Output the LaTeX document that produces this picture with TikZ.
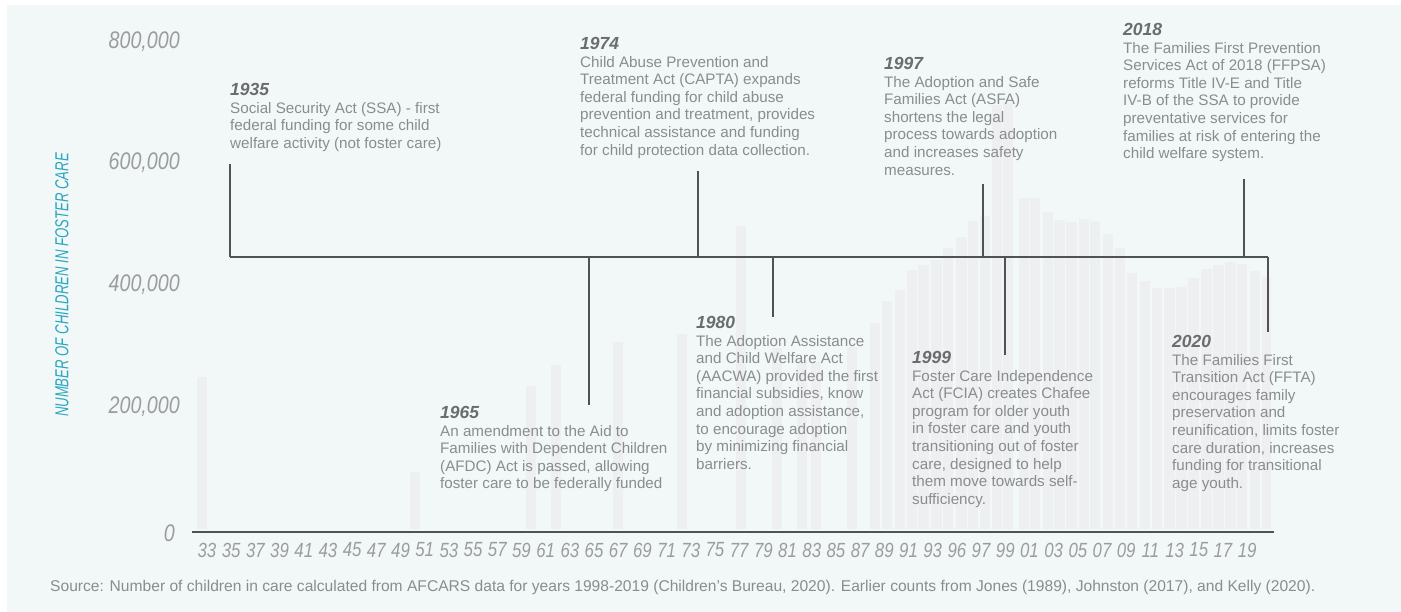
\documentclass[tikz,border=0pt]{standalone}
\usepackage{fontspec}
\setmainfont{Liberation Sans}
\newfontfamily\ynumfont[FakeStretch=0.82]{Liberation Sans}
\newfontfamily\ytitlefont[FakeStretch=0.70]{Liberation Sans}
\definecolor{bgc}{HTML}{F2F8F8}
\definecolor{barc}{HTML}{EEEFF1}
\definecolor{linec}{HTML}{505356}
\definecolor{bodyc}{HTML}{8A8C8F}
\definecolor{yearc}{HTML}{6A6C6F}
\definecolor{axisc}{HTML}{9C9C9E}
\definecolor{tealc}{HTML}{2AA6BE}
\newcommand{\yr}[1]{{\fontsize{17.5}{17.6}\selectfont\bfseries\itshape\color{yearc}#1}}
\begin{document}
\begin{tikzpicture}[x=1pt,y=-1pt,
  bar/.style={fill=barc},
  tl/.style={draw=linec,line width=2.2pt},
  stem/.style={draw=linec,line width=2.5pt},
  event/.style={anchor=north west,inner sep=0pt,align=left,text=bodyc,
    font=\fontsize{15.2}{17.6}\selectfont},
  ylab/.style={anchor=east,inner sep=0pt,text=axisc,
    font=\ynumfont\itshape\fontsize{24}{24}\selectfont},
  xlab/.style={anchor=center,inner sep=0pt,text=axisc,
    font=\ynumfont\itshape\fontsize{20.5}{20.5}\selectfont},
  src/.style={anchor=west,inner sep=0pt,text=bodyc,font=\fontsize{15.6}{16}\selectfont}]
\useasboundingbox (0,0) rectangle (1401,612);
\fill[white] (0,0) rectangle (1401,612);
\fill[bgc] (7,5) rectangle (1401,612);
% bars
\foreach \l/\r/\t in {197/207/377,410/420/472,526/536/386,551/561/365,613/623/342,
  677/687/334,736/746/226,772/782/348,797/807/360,811/821/362,847/857/347,
  870/880/323,882/892/301,895/905/290,907/917/270,918/929/265,931/942/260,
  943/953/248,956/967/237,968/978/221,980/990/216,992/1002/105,1003/1013/103,
  1019/1029/198,1030/1040/198,1043/1053/212,1054/1065/220,1066/1077/222,
  1079/1089/219,1090/1100/221,1103/1113/234,1115/1125/248,1127/1137/273,
  1140/1150/281,1152/1162/288,1164/1175/288,1176/1187/287,1188/1199/278,
  1201/1212/269,1213/1224/265,1225/1236/262,1237/1247/264,1250/1260/271,
  1262/1271/277}
  \fill[bar] (\l,529) rectangle (\r,\t);
% axes
\coordinate (ax0) at (192,532);
\coordinate (ax1) at (1274,532);
\draw[draw=linec,line width=2.7pt] (ax0) -- (ax1);
\node[ylab] (y800) at (180,42) {800,000};
\node[ylab] (y600) at (180,163) {600,000};
\node[ylab] (y400) at (180,285) {400,000};
\node[ylab] (y200) at (180,407) {200,000};
\node[ylab] (y0) at (175,533) {0};
\node[rotate=90,inner sep=0pt,text=tealc,font=\ytitlefont\itshape\fontsize{18.8}{18.8}\selectfont]
  (ytitle) at (62,285) {NUMBER OF CHILDREN IN FOSTER CARE};
\foreach \lab [count=\i from 0] in {33,35,37,39,41,43,45,47,49,51,53,55,57,59,61,63,
  65,67,69,71,73,75,77,79,81,83,85,87,89,91,93,96,97,99,01,03,05,07,09,11,13,15,17,19}
  \node[xlab] (x\i) at ({207+24.19*\i},550) {\lab};
% timeline
\coordinate (L0) at (230,257);
\coordinate (L1) at (1268,257);
\draw[tl] (L0) -- (L1);
\foreach \n/\x/\e in {1935/230/164,1974/698/171,1997/983/184,2018/1244/179,
  1965/589/405,1980/773/317,1999/1005/355,2020/1268/332}{
  \coordinate (j\n) at (\x,257);
  \coordinate (s\n) at (\x,\e);
  \draw[stem] (j\n) -- (s\n);
}
% events
\node[event] (t1935) at (230,83) {\yr{1935}\\Social Security Act (SSA) - first\\federal funding for some child\\welfare activity (not foster care)};
\node[event] (t1974) at (580,37) {\yr{1974}\\Child Abuse Prevention and\\Treatment Act (CAPTA) expands\\federal funding for child abuse\\prevention and treatment, provides\\technical assistance and funding\\for child protection data collection.};
\node[event] (t1997) at (884,57) {\yr{1997}\\The Adoption and Safe\\Families Act (ASFA)\\shortens the legal\\process towards adoption\\and increases safety\\measures.};
\node[event] (t2018) at (1123,23) {\yr{2018}\\The Families First Prevention\\Services Act of 2018 (FFPSA)\\reforms Title IV-E and Title\\IV-B of the SSA to provide\\preventative services for\\families at risk of entering the\\child welfare system.};
\node[event] (t1965) at (440,406) {\yr{1965}\\An amendment to the Aid to\\Families with Dependent Children\\(AFDC) Act is passed, allowing\\foster care to be federally funded};
\node[event] (t1980) at (696,316) {\yr{1980}\\The Adoption Assistance\\and Child Welfare Act\\(AACWA) provided the first\\financial subsidies, know\\and adoption assistance,\\to encourage adoption\\by minimizing financial\\barriers.};
\node[event] (t1999) at (912,351) {\yr{1999}\\Foster Care Independence\\Act (FCIA) creates Chafee\\program for older youth\\in foster care and youth\\transitioning out of foster\\care, designed to help\\them move towards self-\\sufficiency.};
\node[event] (t2020) at (1172,335) {\yr{2020}\\The Families First\\Transition Act (FFTA)\\encourages family\\preservation and\\reunification, limits foster\\care duration, increases\\funding for transitional\\age youth.};
\node[src] (source) at (50,587) {Source: Number of children in care calculated from AFCARS data for years 1998-2019 (Children’s Bureau, 2020). Earlier counts from Jones (1989), Johnston (2017), and Kelly (2020).};
\end{tikzpicture}
\end{document}
